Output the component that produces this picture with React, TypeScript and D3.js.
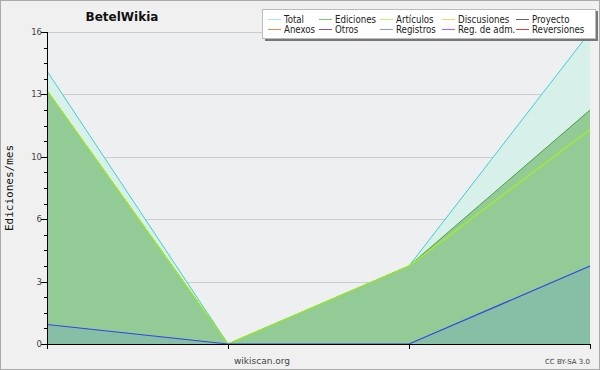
import React, { useEffect, useRef } from "react";
import * as d3 from "d3";

const periods = [0, 1, 2, 3];
const total = [14, 0, 4, 16];
const ediciones = [13, 0, 4, 12];
const articulos = [13, 0, 4, 11];
const registros = [1, 0, 0, 4];
const yTicks = [0, 3.2, 6.4, 9.6, 12.8, 16];

const legendItems = [
  ["Total", "#a8e4e4"],
  ["Ediciones", "#7cc47c"],
  ["Artículos", "#c4f06a"],
  ["Discusiones", "#f2d46a"],
  ["Proyecto", "#666666"],
  ["Anexos", "#f08a4a"],
  ["Otros", "#8a4ad0"],
  ["Registros", "#8a96f0"],
  ["Reg. de adm.", "#c85ae0"],
  ["Reversiones", "#e03a3a"],
];

export default function App() {
  const ref = useRef<SVGSVGElement | null>(null);

  useEffect(() => {
    document.body.style.margin = "0";
    const svg = d3.select(ref.current);
    svg.selectAll("*").remove();

    const width = 600;
    const height = 370;
    const left = 47;
    const right = 590;
    const top = 32;
    const bottom = 344;

    svg
      .append("rect")
      .attr("x", 0.5)
      .attr("y", 0.5)
      .attr("width", width - 1)
      .attr("height", height - 1)
      .attr("fill", "#f0f0f0")
      .attr("stroke", "#aaaaaa");

    const x = d3.scalePoint<number>().domain(periods).range([left, right]);
    const y = d3.scaleLinear().domain([0, 16]).range([bottom, top]);

    svg
      .append("rect")
      .attr("x", left)
      .attr("y", top)
      .attr("width", right - left)
      .attr("height", bottom - top)
      .attr("fill", "#eeeff0");

    // grid
    svg
      .append("g")
      .selectAll("line")
      .data(yTicks.slice(1))
      .enter()
      .append("line")
      .attr("x1", left)
      .attr("x2", right)
      .attr("y1", (d) => Math.round(y(d)) + 0.5)
      .attr("y2", (d) => Math.round(y(d)) + 0.5)
      .attr("stroke", "#cccccc");

    const area = (vals: number[]) =>
      d3
        .area<number>()
        .x((_, i) => x(periods[i])!)
        .y0(y(0))
        .y1((d) => y(d))(vals);
    const line = (vals: number[]) =>
      d3
        .line<number>()
        .x((_, i) => x(periods[i])!)
        .y((d) => y(d))(vals);

    svg.append("path").attr("d", area(total)).attr("fill", "#d8f0ea");
    svg.append("path").attr("d", line(total)).attr("fill", "none").attr("stroke", "#3ccfd4").attr("stroke-width", 1);
    svg.append("path").attr("d", area(ediciones)).attr("fill", "#93cb97");
    svg.append("path").attr("d", line(ediciones)).attr("fill", "none").attr("stroke", "#4a9e4a").attr("stroke-width", 1);
    svg.append("path").attr("d", line(articulos)).attr("fill", "none").attr("stroke", "#a6f020").attr("stroke-width", 1.2);
    svg.append("path").attr("d", area(registros)).attr("fill", "#86bea6");
    svg.append("path").attr("d", line(registros)).attr("fill", "none").attr("stroke", "#3344e6").attr("stroke-width", 1.2);

    // axes
    const yAxis = svg.append("g").attr("transform", `translate(${left},0)`);
    yAxis.append("line").attr("x1", 0.5).attr("x2", 0.5).attr("y1", top).attr("y2", bottom).attr("stroke", "#000");
    const minor = d3.range(0, 16.01, 0.8);
    yAxis
      .selectAll("line.minor")
      .data(minor)
      .enter()
      .append("line")
      .attr("class", "minor")
      .attr("x1", -3)
      .attr("x2", 0.5)
      .attr("y1", (d) => Math.round(y(d)) + 0.5)
      .attr("y2", (d) => Math.round(y(d)) + 0.5)
      .attr("stroke", "#000");
    yAxis
      .selectAll("line.major")
      .data(yTicks)
      .enter()
      .append("line")
      .attr("class", "major")
      .attr("x1", -6)
      .attr("x2", 0.5)
      .attr("y1", (d) => Math.round(y(d)) + 0.5)
      .attr("y2", (d) => Math.round(y(d)) + 0.5)
      .attr("stroke", "#000");
    yAxis
      .selectAll("text")
      .data(yTicks)
      .enter()
      .append("text")
      .attr("x", -5)
      .attr("y", (d) => y(d) + 3)
      .attr("text-anchor", "end")
      .attr("font-family", "DejaVu Sans")
      .attr("font-size", 8.5)
      .attr("fill", "#444")
      .text((d) => String(Math.round(d)));

    const xAxis = svg.append("g");
    xAxis.append("line").attr("x1", left).attr("x2", right + 1).attr("y1", bottom + 0.5).attr("y2", bottom + 0.5).attr("stroke", "#000");
    xAxis
      .selectAll("line.tick")
      .data(periods)
      .enter()
      .append("line")
      .attr("class", "tick")
      .attr("x1", (d) => Math.round(x(d)!) + 0.5)
      .attr("x2", (d) => Math.round(x(d)!) + 0.5)
      .attr("y1", bottom)
      .attr("y2", bottom + 5)
      .attr("stroke", "#000");

    svg
      .append("text")
      .attr("transform", `translate(13,${(top + bottom) / 2}) rotate(-90)`)
      .attr("text-anchor", "middle")
      .attr("font-family", "DejaVu Sans Mono")
      .attr("font-size", 11)
      .attr("fill", "#111")
      .text("Ediciones/mes");

    svg
      .append("text")
      .attr("x", 122)
      .attr("y", 21)
      .attr("text-anchor", "middle")
      .attr("font-family", "DejaVu Sans")
      .attr("font-weight", "bold")
      .attr("font-size", 12)
      .attr("fill", "#111")
      .text("BetelWikia");

    svg
      .append("text")
      .attr("x", 262)
      .attr("y", 364)
      .attr("text-anchor", "middle")
      .attr("font-family", "DejaVu Sans")
      .attr("font-size", 9)
      .attr("fill", "#444")
      .text("wikiscan.org");

    svg
      .append("text")
      .attr("x", 590)
      .attr("y", 364)
      .attr("text-anchor", "end")
      .attr("font-family", "DejaVu Sans")
      .attr("font-size", 7)
      .attr("fill", "#444")
      .text("CC BY-SA 3.0");

    // legend
    const lg = svg.append("g");
    lg.append("rect").attr("x", 265).attr("y", 11).attr("width", 333).attr("height", 30).attr("fill", "#777");
    lg.append("rect").attr("x", 262.5).attr("y", 9.5).attr("width", 333).attr("height", 29).attr("fill", "#fff").attr("stroke", "#bbb");
    const colX = [268, 319, 380, 442, 516];
    legendItems.forEach(([name, color], i) => {
      const cx = colX[i % 5];
      const cy = i < 5 ? 19 : 29;
      lg.append("line").attr("x1", cx).attr("x2", cx + 13).attr("y1", cy + 0.5).attr("y2", cy + 0.5).attr("stroke", color);
      lg.append("text")
        .attr("x", cx + 16)
        .attr("y", cy + 4)
        .attr("font-family", "DejaVu Sans Condensed, DejaVu Sans")
        .attr("font-stretch", "condensed")
        .attr("font-size", 9.6)
        .attr("fill", "#222")
        .text(name);
    });

    return () => {
      svg.selectAll("*").remove();
    };
  }, []);

  return <svg ref={ref} width={600} height={370} style={{ display: "block" }} />;
}
